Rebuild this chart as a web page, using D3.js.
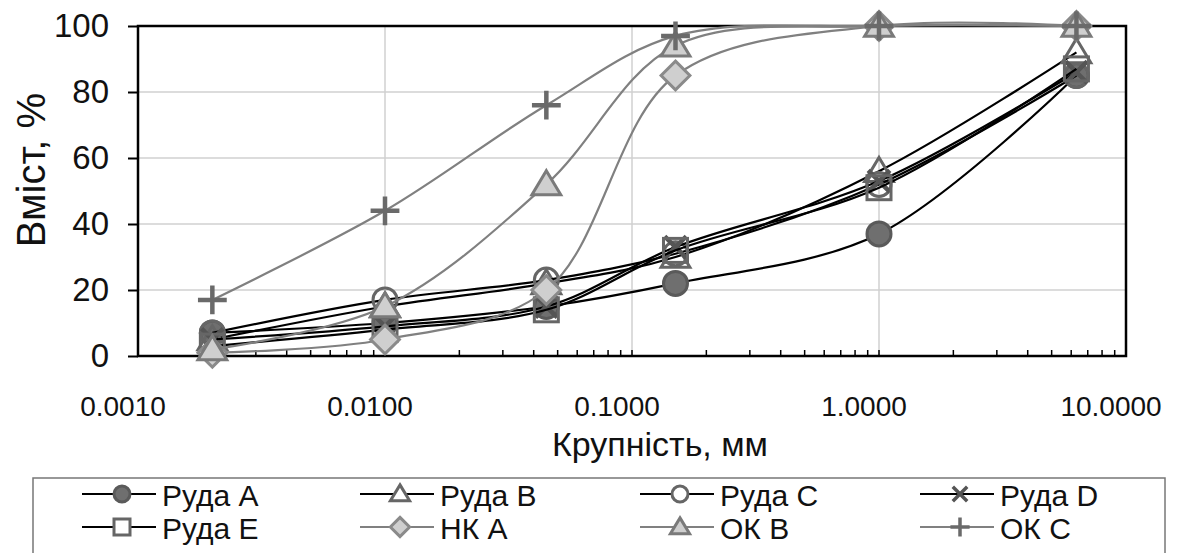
<!DOCTYPE html>
<html>
<head>
<meta charset="utf-8">
<script src="https://cdn.jsdelivr.net/npm/d3@7"></script>
<style>
  body { margin: 0; background: #fff; }
  svg { font-family: "Liberation Sans", Arial, sans-serif; }
</style>
</head>
<body>
<div id="chart"></div>
<script>
// data
const sizes = [0.002, 0.01, 0.045, 0.15, 1.0, 6.3];
const seriesNames = ["Руда A", "Руда B", "Руда C", "Руда D", "Руда E", "НК A", "ОК B", "ОК C"];
const rudaA = [7, 10, 15, 22, 37, 85];
const rudaB = [5, 15, 22, 30, 56, 92];
const rudaC = [7, 17, 23, 31, 52, 85];
const rudaD = [5, 9, 15, 33, 53, 86];
const rudaE = [3, 8, 14, 32, 51, 87];
const nkA = [1, 5, 20, 85, 100, 100];
const okB = [2, 15, 52, 94, 100, 100];
const okC = [17, 44, 76, 97, 100, 100];
const xTicks = [0.001, 0.01, 0.1, 1, 10];
const xTickLabels = ["0.0010", "0.0100", "0.1000", "1.0000", "10.0000"];
const yTicks = [0, 20, 40, 60, 80, 100];

const values = [rudaA, rudaB, rudaC, rudaD, rudaE, nkA, okB, okC];

// marker styles
const styles = [
  { shape: "circle", fill: "#6f6f6f", stroke: "#5a5a5a", line: "#000" },
  { shape: "triangle", fill: "none", stroke: "#666", line: "#000" },
  { shape: "circle", fill: "none", stroke: "#666", line: "#000" },
  { shape: "cross", fill: "none", stroke: "#555", line: "#000" },
  { shape: "square", fill: "none", stroke: "#666", line: "#000" },
  { shape: "diamond", fill: "#cfcfcf", stroke: "#8a8a8a", line: "#808080" },
  { shape: "triangle", fill: "#cfcfcf", stroke: "#7a7a7a", line: "#808080" },
  { shape: "plus", fill: "none", stroke: "#6a6a6a", line: "#808080" },
];

const width = 1201, height = 553;
const plot = { left: 138, right: 1126, top: 26, bottom: 356 };

const svg = d3.select("#chart").append("svg")
  .attr("width", width).attr("height", height);

const x = d3.scaleLog().domain([0.001, 10]).range([plot.left, plot.right]);
const y = d3.scaleLinear().domain([0, 100]).range([plot.bottom, plot.top]);

// gridlines
svg.append("g")
  .selectAll("line")
  .data(yTicks.filter(d => d > 0 && d < 100))
  .join("line")
  .attr("x1", plot.left).attr("x2", plot.right)
  .attr("y1", d => y(d)).attr("y2", d => y(d))
  .attr("stroke", "#d0d0d0").attr("stroke-width", 1.5);

svg.append("g")
  .selectAll("line")
  .data(xTicks.slice(1, -1))
  .join("line")
  .attr("x1", d => x(d)).attr("x2", d => x(d))
  .attr("y1", plot.top).attr("y2", plot.bottom)
  .attr("stroke", "#d0d0d0").attr("stroke-width", 1.5);

// minor ticks on bottom axis (pointing up)
const minor = [];
for (let e = -3; e < 1; e++) for (let m = 2; m <= 9; m++) minor.push(m * Math.pow(10, e));
svg.append("g")
  .selectAll("line")
  .data(minor.concat(xTicks))
  .join("line")
  .attr("x1", d => x(d)).attr("x2", d => x(d))
  .attr("y1", plot.bottom).attr("y2", plot.bottom - 6)
  .attr("stroke", "#000").attr("stroke-width", 1.5);

// frame
svg.append("rect")
  .attr("x", plot.left).attr("y", plot.top)
  .attr("width", plot.right - plot.left).attr("height", plot.bottom - plot.top)
  .attr("fill", "none").attr("stroke", "#000").attr("stroke-width", 2.5);

// y axis
const yAxis = svg.append("g")
  .attr("transform", `translate(${plot.left},0)`)
  .call(d3.axisLeft(y).tickValues(yTicks).tickSize(10).tickPadding(19));
yAxis.select(".domain").remove();
yAxis.selectAll("line").attr("stroke-width", 2);
yAxis.selectAll("text").attr("font-size", 33).attr("fill", "#111")
  .attr("font-family", "Liberation Sans, Arial, sans-serif");

// x tick labels
svg.append("g")
  .selectAll("text")
  .data(xTicks)
  .join("text")
  .attr("x", d => x(d) - 15)
  .attr("y", 416)
  .attr("text-anchor", "middle")
  .attr("font-size", 28)
  .attr("fill", "#111")
  .text((d, i) => xTickLabels[i]);

// axis titles
svg.append("text")
  .attr("x", 660).attr("y", 456)
  .attr("text-anchor", "middle")
  .attr("font-size", 34).attr("fill", "#111")
  .text("Крупність, мм");

svg.append("text")
  .attr("transform", `translate(45,170) rotate(-90)`)
  .attr("text-anchor", "middle")
  .attr("font-size", 40).attr("fill", "#111")
  .text("Вміст, %");

function marker(g, shape, s) {
  if (shape === "circle") return g.append("circle").attr("r", s / 2);
  if (shape === "square") return g.append("rect").attr("x", -s / 2).attr("y", -s / 2).attr("width", s).attr("height", s);
  if (shape === "triangle") {
    const h = s * 0.95;
    return g.append("path").attr("d", `M0,${-h * 0.6}L${s * 0.6},${h * 0.45}L${-s * 0.6},${h * 0.45}Z`);
  }
  if (shape === "diamond") {
    const r = s * 0.6;
    return g.append("path").attr("d", `M0,${-r}L${r},0L0,${r}L${-r},0Z`);
  }
  if (shape === "cross") {
    const r = s * 0.45;
    return g.append("path").attr("d", `M${-r},${-r}L${r},${r}M${-r},${r}L${r},${-r}`);
  }
  if (shape === "plus") {
    const r = s * 0.6;
    return g.append("path").attr("d", `M${-r},0L${r},0M0,${-r}L0,${r}`);
  }
}

const line = d3.line()
  .x(d => x(d[0]))
  .y(d => y(d[1]))
  .curve(d3.curveCatmullRom.alpha(0.5));

values.forEach((vals, i) => {
  const st = styles[i];
  const pts = sizes.map((s, j) => [s, vals[j]]);
  const g = svg.append("g");
  g.append("path")
    .attr("d", line(pts))
    .attr("fill", "none")
    .attr("stroke", st.line)
    .attr("stroke-width", 2.2);
  pts.forEach(p => {
    const mg = g.append("g").attr("transform", `translate(${x(p[0])},${y(p[1])})`);
    marker(mg, st.shape, 24)
      .attr("fill", st.fill)
      .attr("stroke", st.stroke)
      .attr("stroke-width", (st.shape === "plus" || st.shape === "cross") ? 4.5 : 3);
  });
});

// legend
svg.append("rect")
  .attr("x", 33).attr("y", 478)
  .attr("width", 1132).attr("height", 80)
  .attr("fill", "#fff").attr("stroke", "#777").attr("stroke-width", 1.5);

const colX = [122, 400, 680, 960];
const rowY = [494, 527];
seriesNames.forEach((name, i) => {
  const st = styles[i];
  const cx = colX[i % 4], cy = rowY[Math.floor(i / 4)];
  const g = svg.append("g").attr("transform", `translate(${cx},${cy})`);
  g.append("line").attr("x1", -40).attr("x2", 34)
    .attr("stroke", st.line).attr("stroke-width", 2);
  marker(g, st.shape, 16)
    .attr("fill", st.fill === "none" ? "#fff" : st.fill)
    .attr("stroke", st.stroke)
    .attr("stroke-width", (st.shape === "plus" || st.shape === "cross") ? 3.5 : 3);
  g.append("text")
    .attr("x", 40).attr("y", 1).attr("dy", "0.35em")
    .attr("font-size", 30).attr("fill", "#111")
    .text(name);
});
</script>
</body>
</html>
